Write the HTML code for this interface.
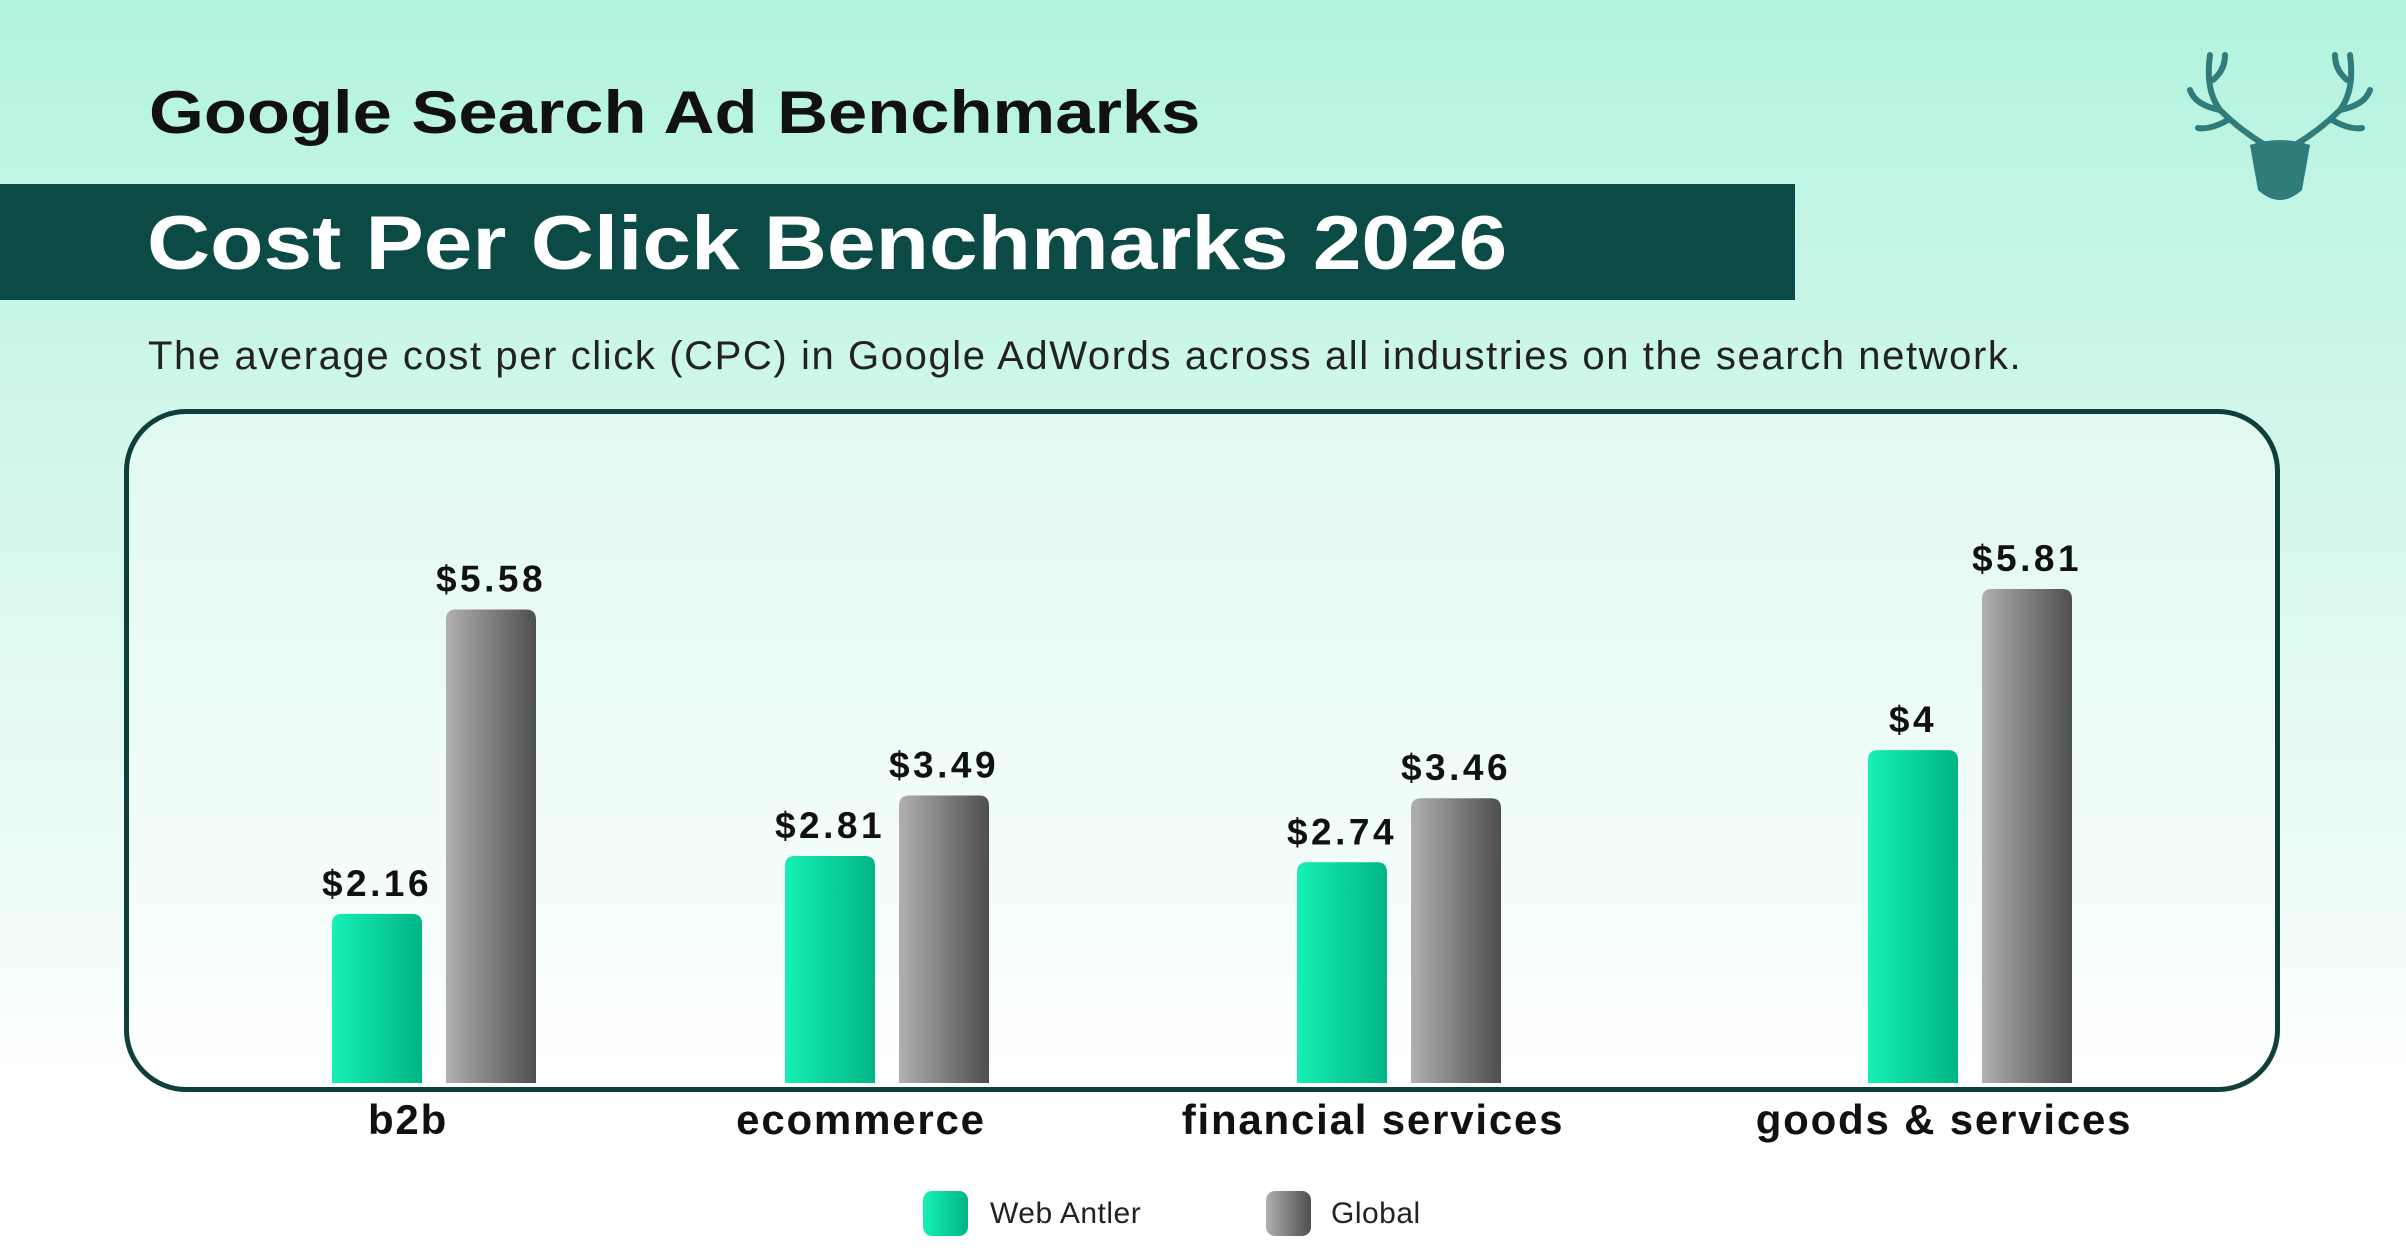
<!DOCTYPE html>
<html><head><meta charset="utf-8">
<style>
html,body{margin:0;padding:0}
body{width:2406px;height:1259px;overflow:hidden;position:relative;font-family:"Liberation Sans",sans-serif;
background:linear-gradient(180deg,#b2f3df 0%,#d6f8ec 40%,#eefcf7 70%,#ffffff 86%,#ffffff 100%);}
.abs{position:absolute}
#title{left:149px;top:78px;font-size:60px;font-weight:bold;color:#111;transform:scaleX(1.175);transform-origin:left top;white-space:nowrap}
#band{left:0;top:184px;width:1795px;height:116px;background:#0b4a45}
#subtitle-main{left:147px;top:200px;font-size:76px;font-weight:bold;color:#fff;transform:scaleX(1.15);transform-origin:left top;white-space:nowrap}
#desc{left:148px;top:334px;font-size:40px;color:#222;letter-spacing:1.6px;white-space:nowrap}
#box{left:124px;top:409px;width:2146px;height:673px;border:5px solid #0e3f3b;border-radius:62px;background:rgba(255,255,255,0.35)}
.legtxt{font-size:30px;color:#222;letter-spacing:0.5px}
</style></head>
<body>
<div id="title" class="abs">Google Search Ad Benchmarks</div>
<div id="band" class="abs"></div>
<div id="subtitle-main" class="abs">Cost Per Click Benchmarks 2026</div>
<div id="desc" class="abs">The average cost per click (CPC) in Google AdWords across all industries on the search network.</div>
<div id="box" class="abs"></div>
<svg class="abs" style="left:2180px;top:50px" width="200" height="160" viewBox="0 0 200 160">
<g fill="none" stroke="#2f7c7a" stroke-width="6" stroke-linecap="round">
<path d="M85 95 Q60 80 40 60 Q25 40 30 5"/><path d="M40 60 Q15 55 10 40"/><path d="M48 70 Q30 80 18 78"/><path d="M33 30 Q45 20 45 5"/>
<path d="M115 95 Q140 80 160 60 Q175 40 170 5"/><path d="M160 60 Q185 55 190 40"/><path d="M152 70 Q170 80 182 78"/><path d="M167 30 Q155 20 155 5"/>
</g>
<path d="M70 95 Q100 85 130 95 L122 140 Q100 160 78 140 Z" fill="#2f7c7a"/>
</svg>
<svg class="abs" style="left:0;top:0" width="2406" height="1259" id="chart">
<defs>
<linearGradient id="gG" x1="0" x2="1" y1="0" y2="0"><stop offset="0" stop-color="#17f0b4"/><stop offset="1" stop-color="#00b585"/></linearGradient>
<linearGradient id="gR" x1="0" x2="1" y1="0" y2="0"><stop offset="0" stop-color="#b0b0b0"/><stop offset="1" stop-color="#4e4e4e"/></linearGradient>
</defs>
</svg>
<script>
const categories=["b2b","ecommerce","financial services","goods & services"];
const webAntler=[2.16,2.81,2.74,4];
const globalVals=[5.58,3.49,3.46,5.81];
const webLabels=["$2.16","$2.81","$2.74","$4"];
const globalLabels=["$5.58","$3.49","$3.46","$5.81"];
const NS="http://www.w3.org/2000/svg";
const svg=document.getElementById('chart');
const baseY=1083;
// layout: group slot centres (design layout, not data)
const layoutSlots=[434,887,1399,1970];
function xCenter(i){return layoutSlots[i];}
function hScale(v){return Math.max(0,89*(v-0.26));}
const bw=90, gap=24;
function bar(x,v,fill,name,lab){
  const h=hScale(v), y=baseY-h, r=10;
  const p=document.createElementNS(NS,'path');
  p.setAttribute('d',`M${x} ${baseY} L${x} ${y+r} Q${x} ${y} ${x+r} ${y} L${x+bw-r} ${y} Q${x+bw} ${y} ${x+bw} ${y+r} L${x+bw} ${baseY} Z`);
  p.setAttribute('fill',fill);
  
  
  svg.appendChild(p);
  const t=document.createElementNS(NS,'text');
  t.setAttribute('x',x+bw/2);t.setAttribute('y',y-18);
  t.setAttribute('text-anchor','middle');t.setAttribute('font-size','37');t.setAttribute('font-weight','bold');t.setAttribute('fill','#111');
  t.setAttribute('letter-spacing','3.5');
  t.textContent=lab;
  
  
  svg.appendChild(t);
}
categories.forEach((c,i)=>{
  const cx=xCenter(i);
  bar(cx-gap/2-bw,webAntler[i],'url(#gG)','bar-web-antler-'+i,webLabels[i]);
  bar(cx+gap/2,globalVals[i],'url(#gR)','bar-global-'+i,globalLabels[i]);
  const t=document.createElementNS(NS,'text');
  t.setAttribute('x',cx-26);t.setAttribute('y',1134);
  t.setAttribute('text-anchor','middle');t.setAttribute('font-size','42');t.setAttribute('font-weight','bold');t.setAttribute('fill','#111');
  t.setAttribute('letter-spacing','1.8');
  t.textContent=c;
  
  
  svg.appendChild(t);
});
</script>
<div class="abs" style="left:923px;top:1191px;width:45px;height:45px;border-radius:9px;background:linear-gradient(90deg,#17f0b4,#00b585)"></div>
<div class="abs legtxt" style="left:990px;top:1197px">Web Antler</div>
<div class="abs" style="left:1266px;top:1191px;width:45px;height:45px;border-radius:9px;background:linear-gradient(90deg,#b0b0b0,#4e4e4e)"></div>
<div class="abs legtxt" style="left:1331px;top:1197px">Global</div>
</body></html>
